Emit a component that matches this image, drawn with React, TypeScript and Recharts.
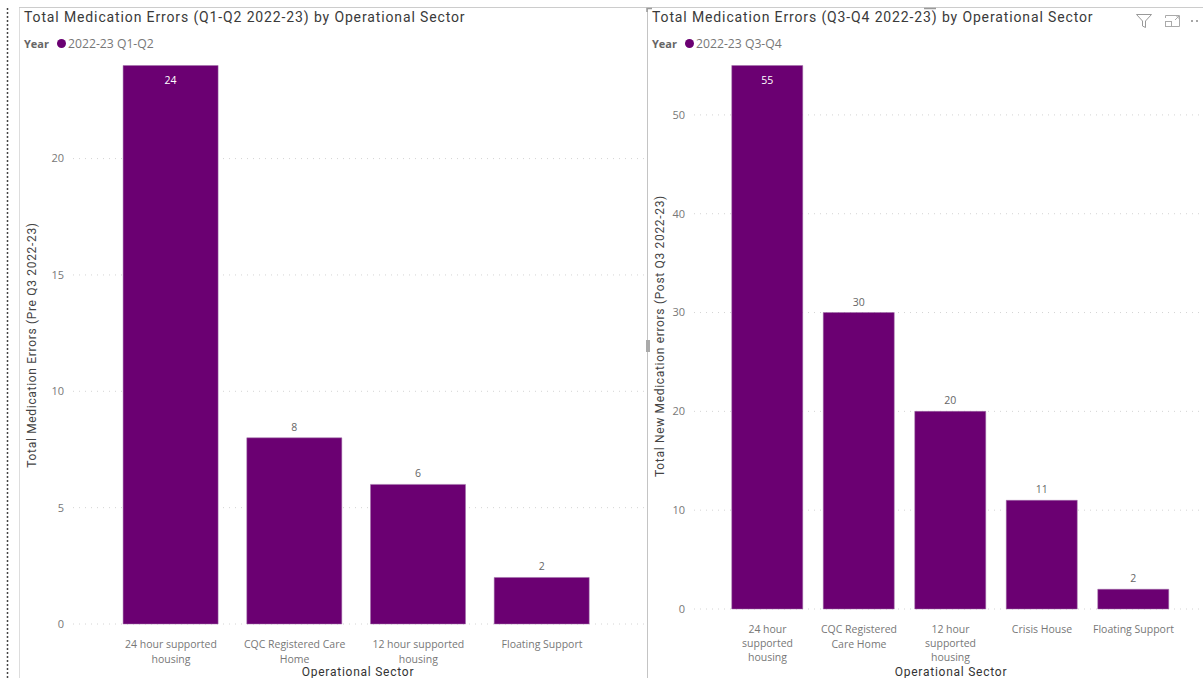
import { BarChart, Bar, CartesianGrid, LabelList, Legend, XAxis, YAxis } from 'recharts'

const PURPLE = '#6B0072'
const TICK_FONT = '"Open Sans", sans-serif'
const HEAD_FONT = 'Roboto, sans-serif'

const earlySectors = ['24 hour supported housing', 'CQC Registered Care Home', '12 hour supported housing', 'Floating Support']
const earlyValues = [24, 8, 6, 2]
const earlyTicks = [0, 5, 10, 15, 20]

const lateSectors = ['24 hour supported housing', 'CQC Registered Care Home', '12 hour supported housing', 'Crisis House', 'Floating Support']
const lateValues = [55, 30, 20, 11, 2]
const lateTicks = [0, 10, 20, 30, 40, 50]

// Greedy word wrap for the category labels
function wrapLabel(text: string, maxChars: number) {
  const lines: string[] = []
  text.split(' ').forEach(word => {
    const last = lines[lines.length - 1]
    if (last && `${last} ${word}`.length <= maxChars) lines[lines.length - 1] = `${last} ${word}`
    else lines.push(word)
  })
  return lines
}

function SectorTick({ x, y, payload, maxChars }: any) {
  const lines = wrapLabel(payload.value, maxChars)
  // Three-line labels sit tighter so they clear the axis title
  const lineGap = lines.length > 2 ? 14 : 15
  return (
    <text x={x} y={y + 12} textAnchor="middle" fill="#777" fontSize={10.5} fontFamily={TICK_FONT}>
      {lines.map((line, i) => (
        <tspan key={i} x={x} dy={i === 0 ? 0 : lineGap}>{line}</tspan>
      ))}
    </text>
  )
}

// The tallest bar carries its label inside, the others above
function ValueLabel({ x, y, width, value, peak }: any) {
  const inside = value === peak
  return (
    <text
      x={x + width / 2}
      y={inside ? y + 18 : y - 7}
      textAnchor="middle"
      fill={inside ? '#fff' : '#666'}
      fontSize={10.5}
      fontFamily={TICK_FONT}
    >
      {value}
    </text>
  )
}

function YearLegend({ period }: { period: string }) {
  return (
    <div style={{ display: 'flex', alignItems: 'center', fontFamily: TICK_FONT, fontSize: 12.2, color: '#777', whiteSpace: 'nowrap' }}>
      <span style={{ fontWeight: 700, fontSize: 11, color: '#666', marginRight: 8 }}>Year</span>
      <span style={{ width: 9, height: 9, borderRadius: '50%', background: PURPLE, marginRight: 2 }} />
      {period}
    </div>
  )
}

type ChartProps = {
  left: number
  width: number
  axisWidth: number
  rightGap: number
  sectors: string[]
  values: number[]
  ticks: number[]
  max: number
  barSize: number
  pad: { left: number; right: number }
  maxChars: number
  title: string
  titleX: number
  period: string
  yTitle: string
  yTitleX: number
  yTitleY: number
  xTitleX: number
  plotBottom: number
}

function SectorChart(p: ChartProps) {
  const rows = p.sectors.map((sector, i) => ({ sector, errors: p.values[i] }))
  return (
    <div style={{ position: 'absolute', left: p.left, top: 0, width: p.width, height: 678 }}>
      <BarChart
        width={p.width}
        height={678}
        data={rows}
        margin={{ top: 65.5, right: p.rightGap, bottom: 0, left: 0 }}
      >
        <CartesianGrid horizontal vertical={false} syncWithTicks stroke="#d4d4d4" strokeDasharray="1 5" />
        <XAxis
          dataKey="sector"
          interval={0}
          height={678 - p.plotBottom}
          padding={p.pad}
          axisLine={false}
          tickLine={false}
          tickSize={0}
          tickMargin={12}
          tick={<SectorTick maxChars={p.maxChars} />}
        />
        <YAxis
          width={p.axisWidth}
          domain={[0, p.max]}
          ticks={p.ticks}
          axisLine={false}
          tickLine={false}
          tickSize={0}
          tickMargin={9}
          tick={{ fill: '#777', fontSize: 11, fontFamily: TICK_FONT }}
        />
        {/* middle/center keeps the legend out of the plot offset, top and left are overridden */}
        <Legend
          verticalAlign="middle"
          align="center"
          wrapperStyle={{ top: 35, left: p.titleX - p.left, width: 'auto' }}
          content={() => <YearLegend period={p.period} />}
        />
        <Bar dataKey="errors" fill={PURPLE} stroke="#a070a8" strokeWidth={0.5} barSize={p.barSize} isAnimationActive={false}>
          <LabelList dataKey="errors" content={<ValueLabel peak={p.max} />} />
        </Bar>
        <text
          x={p.xTitleX - p.left}
          y={675.5}
          textAnchor="middle"
          fill="#333"
          fontSize={12}
          fontFamily={HEAD_FONT}
          letterSpacing={0.75}
        >
          Operational Sector
        </text>
        <text
          transform={`translate(${p.yTitleX - p.left},${p.yTitleY}) rotate(-90)`}
          textAnchor="middle"
          fill="#444"
          fontSize={12}
          fontFamily={HEAD_FONT}
          letterSpacing={0.68}
        >
          {p.yTitle}
        </text>
      </BarChart>
      <div
        style={{
          position: 'absolute',
          left: p.titleX - p.left,
          top: 8,
          fontFamily: HEAD_FONT,
          fontSize: 14,
          lineHeight: '18px',
          letterSpacing: 0.87,
          color: '#3a3a3a',
          whiteSpace: 'nowrap',
        }}
      >
        {p.title}
      </div>
    </div>
  )
}

// Report canvas furniture: selection lines and the visual header icons
function Frame() {
  return (
    <svg width={1203} height={678} style={{ position: 'absolute', left: 0, top: 0, pointerEvents: 'none' }}>
      <line x1={7.5} y1={8} x2={7.5} y2={678} stroke="#444" strokeWidth={1.5} strokeDasharray="2 2" />
      <line x1={19.5} y1={8} x2={19.5} y2={678} stroke="#ddd" />
      <line x1={19} y1={7.5} x2={1203} y2={7.5} stroke="#ccc" />
      <line x1={647.5} y1={8} x2={647.5} y2={678} stroke="#c4c4c4" />
      <rect x={646} y={340} width={4} height={12} fill="#aaa" />
      <path d="M647 12V8.5H652" fill="none" stroke="#999" strokeWidth={1.5} />
      <path d="M924 8.5H936" fill="none" stroke="#999" strokeWidth={1.5} />
      <path d="M1136.5 14.5H1151.5L1145.5 21V27.5L1142.5 26V21Z" fill="none" stroke="#999" />
      <path d="M1165.5 18V15.5H1179.5V26.5H1172M1175 20L1179 16M1176 16H1179V19" fill="none" stroke="#aaa" />
      <rect x={1165.5} y={21.5} width={6} height={5} fill="none" stroke="#aaa" />
      <circle cx={1192} cy={21} r={1} fill="#888" />
      <circle cx={1197} cy={21} r={1} fill="#888" />
    </svg>
  )
}

export default function App() {
  return (
    <div style={{ position: 'absolute', left: 0, top: 0, width: 1203, height: 678, overflow: 'hidden', background: '#fff' }}>
      <SectorChart
        left={0}
        width={647}
        axisWidth={73}
        rightGap={3}
        sectors={earlySectors}
        values={earlyValues}
        ticks={earlyTicks}
        max={24}
        barSize={95}
        pad={{ left: 36.1, right: 40.1 }}
        maxChars={19}
        title="Total Medication Errors (Q1-Q2 2022-23) by Operational Sector"
        titleX={24}
        period="2022-23 Q1-Q2"
        yTitle="Total Medication Errors (Pre Q3 2022-23)"
        yTitleX={36}
        yTitleY={345}
        xTitleX={358}
        plotBottom={624}
      />
      <SectorChart
        left={647}
        width={556}
        axisWidth={47}
        rightGap={0}
        sectors={lateSectors}
        values={lateValues}
        ticks={lateTicks}
        max={55}
        barSize={71}
        pad={{ left: 27.75, right: 23.75 }}
        maxChars={16}
        title="Total Medication Errors (Q3-Q4 2022-23) by Operational Sector"
        titleX={652}
        period="2022-23 Q3-Q4"
        yTitle="Total New Medication errors (Post Q3 2022-23)"
        yTitleX={664}
        yTitleY={336}
        xTitleX={951}
        plotBottom={609}
      />
      <Frame />
    </div>
  )
}
